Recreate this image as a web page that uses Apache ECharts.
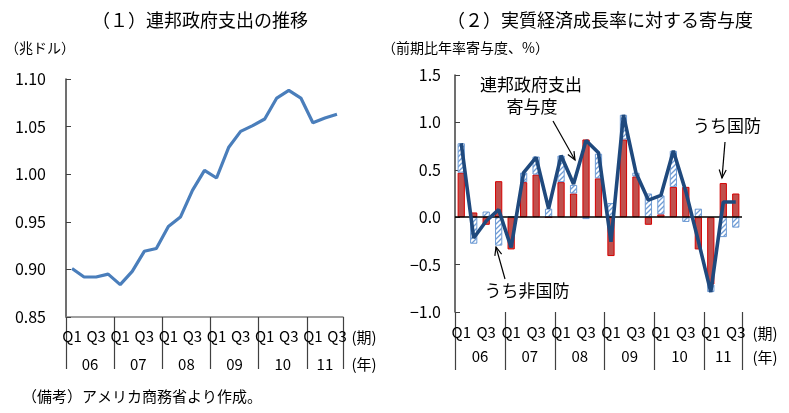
<!DOCTYPE html>
<html><head><meta charset="utf-8">
<script src="https://cdn.jsdelivr.net/npm/echarts@6/dist/echarts.min.js"></script>
<style>html,body{margin:0;padding:0;background:#fff}#c{width:789px;height:413px}</style>
</head><body><div id="c"></div>
<script>
const quarterLabels = ['Q1','Q2','Q3','Q4','Q1','Q2','Q3','Q4','Q1','Q2','Q3','Q4','Q1','Q2','Q3','Q4','Q1','Q2','Q3','Q4','Q1','Q2','Q3'];
const yearLabels = ['06','07','08','09','10','11'];
const quartersPerYear = [4,4,4,4,4,3];
const federalSpending = [0.901,0.892,0.892,0.895,0.884,0.898,0.919,0.922,0.945,0.955,0.983,1.004,0.996,1.028,1.045,1.051,1.058,1.080,1.088,1.080,1.054,1.059,1.063];
const defenseContribution = [0.47,0.05,-0.08,0.38,-0.34,0.37,0.45,0.00,0.37,0.25,0.82,0.41,-0.41,0.82,0.43,-0.08,0.03,0.32,0.32,-0.34,-0.71,0.36,0.25];
const nonDefenseContribution = [0.31,-0.28,0.06,-0.30,0.01,0.10,0.19,0.09,0.28,0.09,-0.02,0.26,0.15,0.26,0.04,0.25,0.20,0.38,-0.05,0.09,-0.08,-0.21,-0.11];
const federalContribution = [0.78,-0.22,-0.04,0.08,-0.32,0.47,0.63,0.09,0.65,0.35,0.81,0.68,-0.26,1.08,0.47,0.18,0.23,0.70,0.27,-0.25,-0.79,0.16,0.16];

const FONT = '"Noto Sans CJK JP", "Noto Sans", sans-serif';
// year boundaries and centres (in quarter units)
const yearBounds = [0]; const yearCenters = [];
quartersPerYear.forEach(n => { const s = yearBounds[yearBounds.length-1]; yearCenters.push(s + n/2); yearBounds.push(s + n); });
const nQ = quarterLabels.length;

function hatch(){
  const s=5, c=document.createElement('canvas'); c.width=c.height=s;
  const g=c.getContext('2d'); g.fillStyle='#fff'; g.fillRect(0,0,s,s);
  g.strokeStyle='#6E9BD4'; g.lineWidth=1.3; g.beginPath();
  g.moveTo(0,s); g.lineTo(s,0); g.moveTo(-1,1); g.lineTo(1,-1); g.moveTo(s-1,s+1); g.lineTo(s+1,s-1); g.stroke();
  return c;
}

const chart = echarts.init(document.getElementById('c'), null, {renderer:'canvas'});
const axisColor = '#404040';
function quarterAxis(grid, margin){
  return {type:'category', gridIndex:grid, data:quarterLabels, boundaryGap:true, position:'bottom',
    axisLine:{show:grid===0, onZero:false, lineStyle:{color:'#808080', width:1.5}},
    axisTick:{show:false},
    axisLabel:{interval:1, margin:margin, fontSize:15, color:'#000', fontFamily:FONT}};
}
function yearAxis(grid, tickLen, margin){
  return {type:'value', gridIndex:grid, min:0, max:nQ, position:'bottom',
    axisLine:{show:false, onZero:false}, splitLine:{show:false},
    axisTick:{show:true, customValues:yearBounds, length:tickLen, lineStyle:{color:axisColor, width:1.2}},
    axisLabel:{customValues:yearCenters, margin:margin, fontSize:15, color:'#000', fontFamily:FONT,
      formatter:(v)=>{const i=yearCenters.indexOf(v); return i>=0?yearLabels[i]:'';}}};
}
function txt(x,y,text,size,align){
  return {type:'text', style:{text:text, x:x, y:y, font:(size||15)+'px '+FONT, fill:'#000',
    align:align||'center', verticalAlign:'middle', textAlign:align||'center', textVerticalAlign:'middle'}};
}
function arrow(x1,y1,x2,y2){
  const a=Math.atan2(y2-y1,x2-x1), L=9, w=0.4;
  return [
    {type:'line', shape:{x1:x1,y1:y1,x2:x2,y2:y2}, style:{stroke:'#000', lineWidth:1.2}},
    {type:'polyline', shape:{points:[[x2-L*Math.cos(a-w), y2-L*Math.sin(a-w)],[x2,y2],[x2-L*Math.cos(a+w), y2-L*Math.sin(a+w)]]}, style:{stroke:'#000', lineWidth:1.2, fill:null}}
  ];
}

const option = {
  animation:false,
  backgroundColor:'#fff',
  grid:[
    {left:66, top:79, width:277, height:238},
    {left:455, top:75, width:287, height:237}
  ],
  xAxis:[ quarterAxis(0,12), yearAxis(0,52,40), quarterAxis(1,13), yearAxis(1,58,37) ],
  yAxis:[
    {type:'value', gridIndex:0, min:0.85, max:1.10, interval:0.05,
      axisLine:{show:true, onZero:false, lineStyle:{color:axisColor, width:1.5}},
      axisTick:{show:true, inside:true, length:5, lineStyle:{color:axisColor}},
      splitLine:{show:false},
      axisLabel:{margin:20, fontSize:16, color:'#000', fontFamily:FONT, formatter:v=>v.toFixed(2)}},
    {type:'value', gridIndex:1, min:-1.0, max:1.5, interval:0.5,
      axisLine:{show:true, onZero:false, lineStyle:{color:axisColor, width:1.5}},
      axisTick:{show:true, inside:true, length:5, lineStyle:{color:axisColor}},
      splitLine:{show:false},
      axisLabel:{margin:14, fontSize:16, color:'#000', fontFamily:FONT, formatter:v=>v.toFixed(1).replace('-','−')}}
  ],
  series:[
    {type:'line', xAxisIndex:0, yAxisIndex:0, data:federalSpending, symbol:'none',
      lineStyle:{color:'#4A7EBB', width:3.2}},
    {type:'bar', xAxisIndex:2, yAxisIndex:1, stack:'c', data:defenseContribution, barWidth:'58%',
      itemStyle:{color:'#C0504D', borderColor:'#D40000', borderWidth:1},
      markLine:{silent:true, symbol:'none', label:{show:false}, data:[{yAxis:0}], lineStyle:{color:'#000', width:1.5, type:'solid'}}},
    {type:'bar', xAxisIndex:2, yAxisIndex:1, stack:'c', data:nonDefenseContribution, barWidth:'58%',
      itemStyle:{color:{image:hatch(), repeat:'repeat'}, borderColor:'#6E9BD4', borderWidth:1}},
    {type:'line', xAxisIndex:2, yAxisIndex:1, data:federalContribution, symbol:'none', z:5,
      lineStyle:{color:'#1F497D', width:3.6}}
  ],
  graphic:[
    txt(200,20,'（１）連邦政府支出の推移',18),
    txt(600,20,'（２）実質経済成長率に対する寄与度',18),
    txt(5,48,'（兆ドル）',14,'left'),
    txt(382,48,'（前期比年率寄与度、%）',14,'left'),
    txt(364,337,'(期)',15),
    txt(364,364,'(年)',15),
    txt(765,333,'(期)',15),
    txt(765,357,'(年)',15),
    txt(531,85,'連邦政府支出',17),
    txt(532,107,'寄与度',17),
    txt(727,126,'うち国防',17),
    txt(527,291,'うち非国防',17),
    txt(22,396,'（備考）アメリカ商務省より作成。',15,'left'),
    ...arrow(553,121,575,160),
    ...arrow(725,142,722,178),
    ...arrow(505,279,496,247)
  ]
};
chart.setOption(option);
</script></body></html>
